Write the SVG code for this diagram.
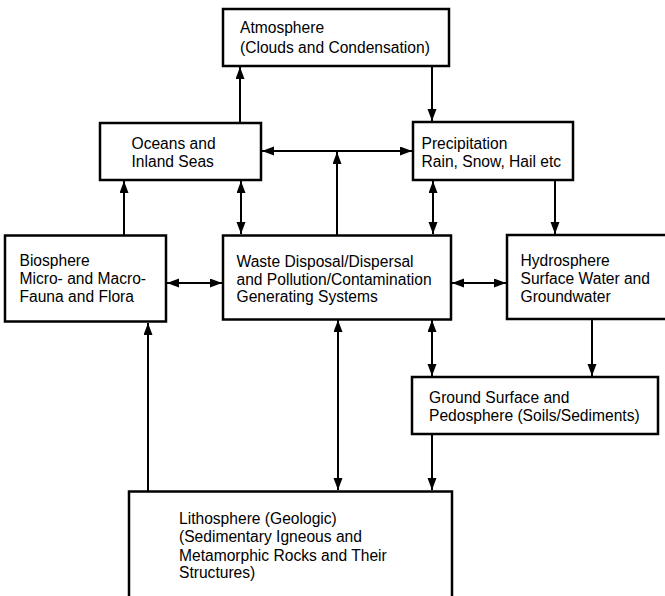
<svg xmlns="http://www.w3.org/2000/svg" width="665" height="596" viewBox="0 0 665 596">
<style>
.box{fill:#fff;stroke:#000;stroke-width:2.5}
.lbl{font-family:"Liberation Sans",Arial,sans-serif;font-size:15.6px;fill:#000}
.c{stroke:#000;stroke-width:2;fill:none}
</style>
<defs>
<marker id="ah" markerUnits="userSpaceOnUse" markerWidth="13" markerHeight="10" refX="12" refY="4.5" orient="auto-start-reverse">
<path d="M0,0 L12,4.5 L0,9 Z" fill="#000"/>
</marker>
</defs>
<rect width="665" height="596" fill="#fff"/>
<g id="connectors">
<line class="c" x1="240" y1="123" x2="240" y2="67" marker-end="url(#ah)"/>
<line class="c" x1="432" y1="66" x2="432" y2="121" marker-end="url(#ah)"/>
<line class="c" x1="262" y1="151" x2="412" y2="151" marker-start="url(#ah)" marker-end="url(#ah)"/>
<line class="c" x1="337" y1="235" x2="337" y2="152" marker-end="url(#ah)"/>
<line class="c" x1="241" y1="181" x2="241" y2="234" marker-start="url(#ah)" marker-end="url(#ah)"/>
<line class="c" x1="433" y1="181" x2="433" y2="234" marker-start="url(#ah)" marker-end="url(#ah)"/>
<line class="c" x1="555" y1="180" x2="555" y2="234" marker-end="url(#ah)"/>
<line class="c" x1="124" y1="236" x2="124" y2="181" marker-end="url(#ah)"/>
<line class="c" x1="167" y1="283" x2="222" y2="283" marker-start="url(#ah)" marker-end="url(#ah)"/>
<line class="c" x1="452" y1="283" x2="506" y2="283" marker-start="url(#ah)" marker-end="url(#ah)"/>
<line class="c" x1="432" y1="320" x2="432" y2="376" marker-start="url(#ah)" marker-end="url(#ah)"/>
<line class="c" x1="592" y1="319" x2="592" y2="376" marker-end="url(#ah)"/>
<line class="c" x1="432" y1="434" x2="432" y2="490" marker-end="url(#ah)"/>
<line class="c" x1="338" y1="320" x2="338" y2="490" marker-start="url(#ah)" marker-end="url(#ah)"/>
<line class="c" x1="148" y1="491" x2="148" y2="323" marker-end="url(#ah)"/>
</g>
<g id="atmosphere">
<rect class="box" x="223" y="9" width="226" height="57"/>
<text class="lbl" x="240" y="33">Atmosphere</text>
<text class="lbl" x="240" y="52.5">(Clouds and Condensation)</text>
</g>
<g id="oceans">
<rect class="box" x="100" y="123" width="161" height="57"/>
<text class="lbl" x="131.5" y="149">Oceans and</text>
<text class="lbl" x="131.5" y="167">Inland Seas</text>
</g>
<g id="precipitation">
<rect class="box" x="413" y="122" width="160" height="58"/>
<text class="lbl" x="421.5" y="148.5">Precipitation</text>
<text class="lbl" x="421.5" y="166.5">Rain, Snow, Hail etc</text>
</g>
<g id="biosphere">
<rect class="box" x="5" y="235.5" width="161" height="86"/>
<text class="lbl" x="19.5" y="266">Biosphere</text>
<text class="lbl" x="19.5" y="284">Micro- and Macro-</text>
<text class="lbl" x="19.5" y="302">Fauna and Flora</text>
</g>
<g id="waste">
<rect class="box" x="223" y="235.5" width="228" height="84"/>
<text class="lbl" x="236.5" y="266.5">Waste Disposal/Dispersal</text>
<text class="lbl" x="236.5" y="284.5">and Pollution/Contamination</text>
<text class="lbl" x="236.5" y="302">Generating Systems</text>
</g>
<g id="hydrosphere">
<rect class="box" x="507" y="235" width="170" height="84"/>
<text class="lbl" x="520.5" y="266">Hydrosphere</text>
<text class="lbl" x="520.5" y="284">Surface Water and</text>
<text class="lbl" x="520.5" y="302">Groundwater</text>
</g>
<g id="ground">
<rect class="box" x="412" y="377" width="246" height="57"/>
<text class="lbl" x="429" y="403">Ground Surface and</text>
<text class="lbl" x="429" y="421">Pedosphere (Soils/Sediments)</text>
</g>
<g id="lithosphere">
<rect class="box" x="129" y="491.5" width="323" height="115"/>
<text class="lbl" x="179" y="524">Lithosphere (Geologic)</text>
<text class="lbl" x="179" y="542">(Sedimentary Igneous and</text>
<text class="lbl" x="179" y="560.5">Metamorphic Rocks and Their</text>
<text class="lbl" x="179" y="578">Structures)</text>
</g>
</svg>
